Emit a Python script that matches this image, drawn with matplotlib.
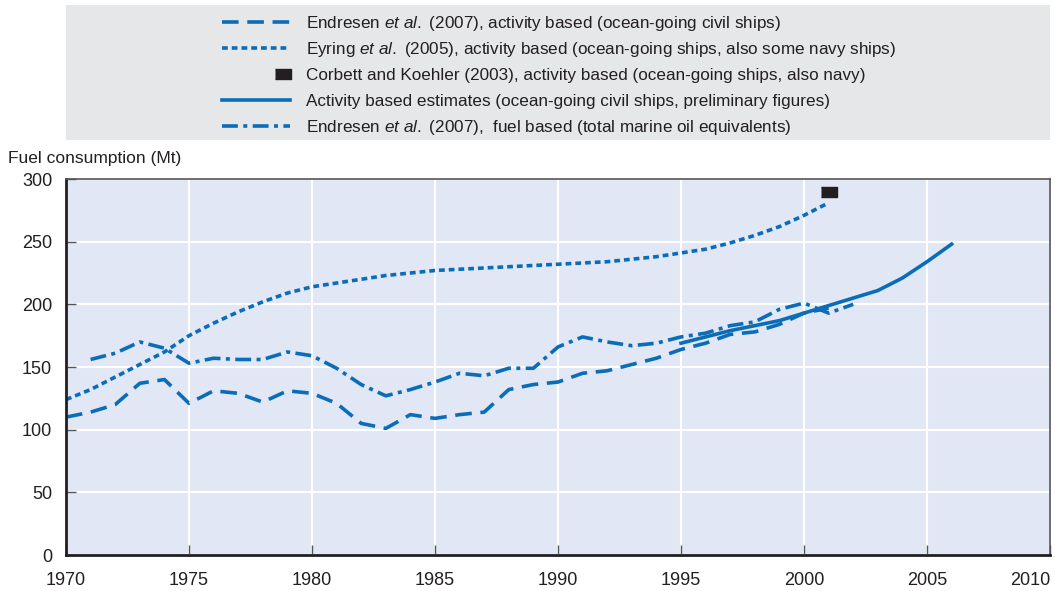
import matplotlib
matplotlib.use("Agg")
import matplotlib.pyplot as plt
from matplotlib.patches import Rectangle
from matplotlib.lines import Line2D

plt.rcParams['font.family'] = ['Liberation Sans', 'DejaVu Sans']
plt.rcParams['mathtext.fontset'] = 'custom'
plt.rcParams['mathtext.rm'] = 'Liberation Sans'
plt.rcParams['mathtext.it'] = 'Liberation Sans:italic'

BLUE = '#0b6db7'
TEXT = '#231f20'

# Endresen et al. (2007), activity based
endresen_act_years = list(range(1970, 2002))
endresen_act = [110, 114, 120, 137, 140, 121, 131, 129, 122, 131, 129, 121, 105, 101, 112, 109,
                112, 114, 132, 136, 138, 145, 147, 152, 157, 164, 169, 176, 178, 184, 193, 197]

# Eyring et al. (2005), activity based
eyring_years = list(range(1970, 2002))
eyring = [124, 132, 142, 152, 162, 175, 185, 194, 202, 209, 214, 217, 220, 223, 225, 227,
          228, 229, 230, 231, 232, 233, 234, 236, 238, 241, 244, 249, 255, 262, 271, 281]

# Corbett and Koehler (2003)
corbett_years = [2001]
corbett = [290]

# Activity based estimates (preliminary)
activity_years = list(range(1995, 2007))
activity = [169, 174, 179, 183, 187, 193, 199, 205, 211, 221, 234, 248]

# Endresen et al. (2007), fuel based
endresen_fuel_years = list(range(1971, 2003))
endresen_fuel = [156, 161, 170, 165, 153, 157, 156, 156, 162, 159, 149, 136, 127, 132, 138, 145,
                 143, 149, 149, 166, 174, 170, 167, 169, 174, 177, 183, 186, 196, 201, 193, 200]

labels = [
    r'Endresen $\it{et\ al.}$ (2007), activity based (ocean-going civil ships)',
    r'Eyring $\it{et\ al.}$ (2005), activity based (ocean-going ships, also some navy ships)',
    'Corbett and Koehler (2003), activity based (ocean-going ships, also navy)',
    'Activity based estimates (ocean-going civil ships, preliminary figures)',
    r'Endresen $\it{et\ al.}$ (2007),  fuel based (total marine oil equivalents)',
]

W, H = 1055, 591
fig = plt.figure(figsize=(W / 100, H / 100), dpi=100)
ax = fig.add_axes([66 / W, 36 / H, 984 / W, 376 / H])
ax.set_facecolor('#e1e7f4')

lw = 2.6
rect = [(-1, -0.66), (1, -0.66), (1, 0.66), (-1, 0.66)]
styles = [
    dict(color=BLUE, lw=lw, dashes=(4.6, 2.4)),
    dict(color=BLUE, lw=lw, dashes=(1.6, 1.1)),
    dict(ls='none', color=TEXT, marker=rect, markersize=11.5),
    dict(color=BLUE, lw=lw),
    dict(color=BLUE, lw=lw, dashes=(4.4, 1.5, 1.1, 1.5)),
]
ax.plot(endresen_act_years, endresen_act, **styles[0])
ax.plot(eyring_years, eyring, **styles[1])
ax.plot(corbett_years, corbett, **styles[2])
ax.plot(activity_years, activity, **styles[3])
ax.plot(endresen_fuel_years, endresen_fuel, **styles[4])

ax.set_xlim(1970, 2010)
ax.set_ylim(0, 300)
ax.set_xticks(range(1970, 2011, 5))
ax.set_yticks(range(0, 301, 50))
ax.grid(True, color='white', lw=1.5)
ax.set_axisbelow(True)
ax.tick_params(axis='both', direction='in', length=7, width=1, color='#555555',
               labelsize=13, labelcolor=TEXT)
ax.tick_params(axis='x', pad=12)
ax.tick_params(axis='y', pad=10)
xt = ax.get_xticklabels()
xt[-1].set_horizontalalignment('right')
xt[-1].set_x(2010.15)
for s in ['left', 'bottom']:
    ax.spines[s].set_color(TEXT)
    ax.spines[s].set_linewidth(2)
for s in ['top', 'right']:
    ax.spines[s].set_color('#555555')
    ax.spines[s].set_linewidth(1.2)

fig.text(8 / W, 1 - 158 / H, 'Fuel consumption (Mt)', fontsize=12.5, color=TEXT, va='center', ha='left')

# legend panel, drawn by hand so the rows sit evenly
fig.patches.append(Rectangle((66 / W, 1 - 140 / H), 984 / W, 135 / H, transform=fig.transFigure,
                             facecolor='#e6e7e8', edgecolor='none', zorder=0))
for i, (lab, st) in enumerate(zip(labels, styles)):
    yc = 1 - (22 + 26 * i) / H
    if st.get('ls') == 'none':
        fig.add_artist(Line2D([283 / W], [yc], transform=fig.transFigure, **st))
    else:
        fig.add_artist(Line2D([222 / W, 290 / W], [yc, yc], transform=fig.transFigure, **st))
    fig.text(306 / W, yc - 6 / H, lab, fontsize=12.3, color=TEXT, va='baseline', ha='left')

fig.savefig('out.png', dpi=100)
